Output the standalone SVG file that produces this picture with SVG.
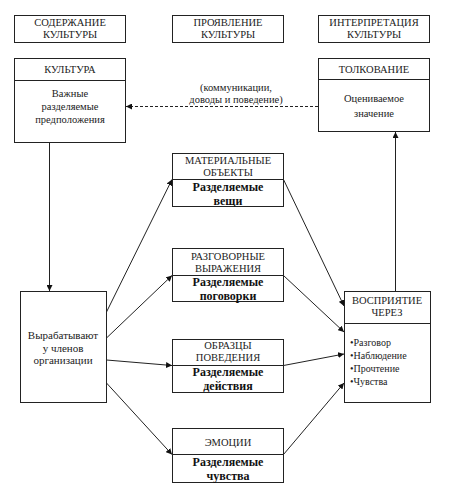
<svg xmlns="http://www.w3.org/2000/svg" width="451" height="493" viewBox="0 0 451 493">
<style>
.box{fill:#fff;stroke:#222;stroke-width:1}
.t{font-family:"Liberation Serif","DejaVu Serif",serif;font-size:10.5px;fill:#222;text-anchor:middle}
.b{font-family:"Liberation Serif","DejaVu Serif",serif;font-size:12px;font-weight:bold;fill:#111;text-anchor:middle}
.l{font-family:"Liberation Serif","DejaVu Serif",serif;font-size:10px;fill:#222}
.c{fill:none;stroke:#222;stroke-width:1}
</style>
<defs>
<marker id="ar" viewBox="0 0 10 10" refX="10" refY="5" markerWidth="6" markerHeight="6" orient="auto" markerUnits="userSpaceOnUse">
<path d="M0,0 L10,5 L0,10 z" fill="#111"/>
</marker>
</defs>
<rect width="451" height="493" fill="#fff"/>
<g id="h1"><rect class="box" x="14.5" y="15.5" width="111" height="27"/><text class="t" x="70" y="26">СОДЕРЖАНИЕ</text><text class="t" x="70" y="38">КУЛЬТУРЫ</text></g>
<g id="h2"><rect class="box" x="172.5" y="15.5" width="111" height="27"/><text class="t" x="228" y="26">ПРОЯВЛЕНИЕ</text><text class="t" x="228" y="38">КУЛЬТУРЫ</text></g>
<g id="h3"><rect class="box" x="318.5" y="15.5" width="111" height="27"/><text class="t" x="374" y="26">ИНТЕРПРЕТАЦИЯ</text><text class="t" x="374" y="38">КУЛЬТУРЫ</text></g>
<g id="kultura"><rect class="box" x="14.5" y="58.5" width="111" height="84"/><line class="c" x1="14.5" y1="80.5" x2="125.5" y2="80.5"/><text class="t" x="70" y="73">КУЛЬТУРА</text><text class="t" x="70" y="97">Важные</text><text class="t" x="70" y="110">разделяемые</text><text class="t" x="70" y="123">предположения</text></g>
<g id="tolkovanie"><rect class="box" x="318.5" y="58.5" width="111" height="73"/><line class="c" x1="318.5" y1="79.5" x2="429.5" y2="79.5"/><text class="t" x="374" y="73">ТОЛКОВАНИЕ</text><text class="t" x="374" y="102">Оцениваемое</text><text class="t" x="374" y="117">значение</text></g>
<g id="vyrab"><rect class="box" x="20.5" y="291.5" width="86" height="111"/><text class="t" x="63" y="339" style="font-size:11px">Вырабатывают</text><text class="t" x="63" y="352" style="font-size:11px">у членов</text><text class="t" x="63" y="364" style="font-size:11px">организации</text></g>
<g id="mat"><rect class="box" x="172.5" y="153.5" width="111" height="53"/><line class="c" x1="172.5" y1="179.5" x2="283.5" y2="179.5"/><text class="t" x="228" y="164">МАТЕРИАЛЬНЫЕ</text><text class="t" x="228" y="176">ОБЪЕКТЫ</text><text class="b" x="228" y="191">Разделяемые</text><text class="b" x="228" y="205">вещи</text></g>
<g id="razg"><rect class="box" x="172.5" y="248.5" width="111" height="53"/><line class="c" x1="172.5" y1="275.5" x2="283.5" y2="275.5"/><text class="t" x="228" y="260">РАЗГОВОРНЫЕ</text><text class="t" x="228" y="272">ВЫРАЖЕНИЯ</text><text class="b" x="228" y="286">Разделяемые</text><text class="b" x="228" y="300">поговорки</text></g>
<g id="obr"><rect class="box" x="172.5" y="339.5" width="111" height="53"/><line class="c" x1="172.5" y1="365.5" x2="283.5" y2="365.5"/><text class="t" x="228" y="349">ОБРАЗЦЫ</text><text class="t" x="228" y="361">ПОВЕДЕНИЯ</text><text class="b" x="228" y="376">Разделяемые</text><text class="b" x="228" y="390">действия</text></g>
<g id="emo"><rect class="box" x="172.5" y="428.5" width="111" height="54"/><line class="c" x1="172.5" y1="454.5" x2="283.5" y2="454.5"/><text class="t" x="228" y="446">ЭМОЦИИ</text><text class="b" x="228" y="466">Разделяемые</text><text class="b" x="228" y="480">чувства</text></g>
<g id="vosp"><rect class="box" x="344.5" y="291.5" width="86" height="111"/><line class="c" x1="344.5" y1="323.5" x2="430.5" y2="323.5"/><text class="t" x="387" y="304">ВОСПРИЯТИЕ</text><text class="t" x="387" y="316">ЧЕРЕЗ</text><text class="l" x="350" y="346">•Разговор</text><text class="l" x="350" y="359">•Наблюдение</text><text class="l" x="350" y="372">•Прочтение</text><text class="l" x="350" y="385">•Чувства</text></g>
<g id="connectors">
<line class="c" x1="318" y1="106.5" x2="126" y2="106.5" stroke-dasharray="3,2" marker-end="url(#ar)"/>
<text class="t" x="236" y="91">(коммуникации,</text>
<text class="t" x="236" y="103">доводы и поведение)</text>
<line class="c" x1="49.5" y1="142.5" x2="49.5" y2="291" marker-end="url(#ar)"/>
<line class="c" x1="395.5" y1="291" x2="395.5" y2="132" marker-end="url(#ar)"/>
<line class="c" x1="106.5" y1="312" x2="172" y2="179.5" marker-end="url(#ar)"/>
<line class="c" x1="106.5" y1="338" x2="172" y2="275.5" marker-end="url(#ar)"/>
<line class="c" x1="106.5" y1="360" x2="172" y2="365.5" marker-end="url(#ar)"/>
<line class="c" x1="106.5" y1="383" x2="172" y2="454.5" marker-end="url(#ar)"/>
<line class="c" x1="283.5" y1="179.5" x2="344" y2="306" marker-end="url(#ar)"/>
<line class="c" x1="283.5" y1="275.5" x2="344" y2="332" marker-end="url(#ar)"/>
<line class="c" x1="283.5" y1="365.5" x2="344" y2="354" marker-end="url(#ar)"/>
<line class="c" x1="283.5" y1="454.5" x2="344" y2="383" marker-end="url(#ar)"/>
</g>
</svg>
